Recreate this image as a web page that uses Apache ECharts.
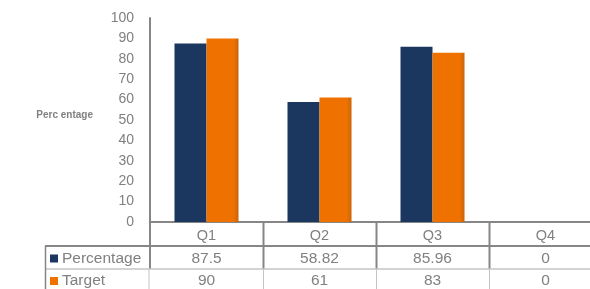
<!DOCTYPE html>
<html><head><meta charset="utf-8">
<script src="https://cdn.jsdelivr.net/npm/echarts@6/dist/echarts.min.js"></script>
<style>html,body{margin:0;padding:0;background:#fff;overflow:hidden;width:590px;height:289px}#c{width:602px;height:289px}</style>
</head><body><div id="c"></div>
<script>
var categories = ['Q1', 'Q2', 'Q3', 'Q4'];
var percentage = [87.5, 58.82, 85.96, 0];
var target = [90, 61, 83, 0];
var percentageLabels = ['87.5', '58.82', '85.96', '0'];
var targetLabels = ['90', '61', '83', '0'];
var yTicks = [0, 10, 20, 30, 40, 50, 60, 70, 80, 90, 100];

var NAVY = '#1b365f', ORANGE = '#ef7200', GREY = '#808080';
var FONT = 'Liberation Sans, Arial, sans-serif';
var chart = echarts.init(document.getElementById('c'));
chart.setOption({
  animation: false,
  textStyle: {fontFamily: FONT},
  grid: {left: 150, top: 18, bottom: 67, right: 0},
  xAxis: {
    type: 'category', data: categories,
    axisLine: {show: true, lineStyle: {color: '#868686', width: 2}},
    axisTick: {show: false},
    axisLabel: {color: GREY, fontSize: 14.5, margin: 6}
  },
  yAxis: {
    type: 'value', min: yTicks[0], max: yTicks[yTicks.length - 1], interval: 10,
    name: 'Perc entage', nameLocation: 'middle', nameGap: 57, nameRotate: 0,
    nameTextStyle: {color: GREY, fontSize: 10, fontWeight: 'bold', align: 'right', verticalAlign: 'bottom'},
    axisLine: {show: true, lineStyle: {color: '#868686', width: 2}},
    axisTick: {show: false},
    splitLine: {show: false},
    axisLabel: {color: GREY, fontSize: 14, margin: 16}
  },
  series: [
    {name: 'Percentage', type: 'bar', data: percentage, barWidth: 32, barGap: '0%',
     itemStyle: {color: NAVY}},
    {name: 'Target', type: 'bar', data: target, barWidth: 32, barGap: '0%',
     itemStyle: {color: new echarts.graphic.LinearGradient(0, 0, 1, 0, [
       {offset: 0, color: ORANGE}, {offset: 0.85, color: ORANGE}, {offset: 1, color: '#c8640a'}])}}
  ]
});

// data table below the plot
var band = chart.convertToPixel({xAxisIndex: 0}, categories[1]) - chart.convertToPixel({xAxisIndex: 0}, categories[0]);
var y0 = chart.convertToPixel({yAxisIndex: 0}, 0);
var axisX = chart.convertToPixel({xAxisIndex: 0}, categories[0]) - band / 2;
var row1 = y0 + 24, row2 = y0 + 47, bottom = 289;
var els = [];
var dark = '#868686', light = '#c4c4c4';
function line(x1, y1, x2, y2, c, w) {
  els.push({type: 'line', shape: {x1: x1, y1: y1, x2: x2, y2: y2}, style: {stroke: c, lineWidth: w || 1}, silent: true});
}
categories.forEach(function (c, i) {
  var cx = chart.convertToPixel({xAxisIndex: 0}, c);
  var bx = Math.round(cx + band / 2) + 0.5;
  line(bx, y0, bx, row2, dark, 2);
  line(bx, row2, bx, bottom, light, 1);
  els.push({type: 'text', style: {text: percentageLabels[i], x: cx, y: (row1 + row2) / 2 + 1, align: 'center', verticalAlign: 'middle', fill: GREY, fontSize: 15.5, fontFamily: FONT}});
  els.push({type: 'text', style: {text: targetLabels[i], x: cx, y: (row2 + bottom) / 2 + 2, align: 'center', verticalAlign: 'middle', fill: GREY, fontSize: 15.5, fontFamily: FONT}});
});
line(axisX, y0, axisX, row2, dark, 2);
line(axisX - 1, row2, axisX - 1, bottom, light, 1);
line(45, row1, 602, row1, dark, 2);
line(45, row2, 602, row2, light, 1.5);
line(45.5, row1, 45.5, bottom, dark, 1.5);
var names = ['Percentage', 'Target'], cols = [NAVY, ORANGE], ys = [(row1 + row2) / 2 + 1, (row2 + bottom) / 2 + 2];
names.forEach(function (n, i) {
  els.push({type: 'rect', shape: {x: 50, y: ys[i] - 4, width: 8, height: 8}, style: {fill: cols[i]}});
  els.push({type: 'text', style: {text: n, x: 62, y: ys[i], align: 'left', verticalAlign: 'middle', fill: GREY, fontSize: 15.5, fontFamily: FONT}});
});
chart.setOption({graphic: {elements: els}});
</script></body></html>
